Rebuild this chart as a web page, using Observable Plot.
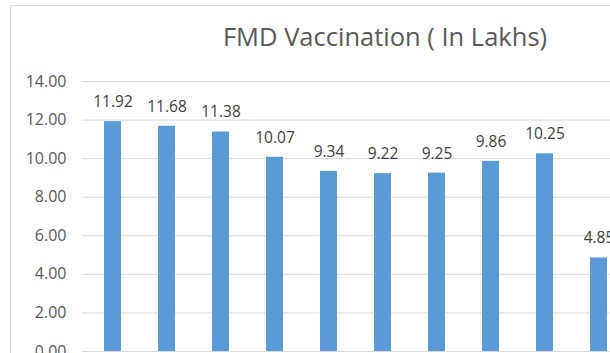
<!DOCTYPE html>
<html>
<head>
<meta charset="utf-8">
<script src="https://cdn.jsdelivr.net/npm/d3@7"></script>
<script src="https://cdn.jsdelivr.net/npm/@observablehq/plot@0.6"></script>
<style>
  html, body { margin: 0; padding: 0; background: #fff; }
  #wrap { position: relative; width: 610px; height: 353px; overflow: hidden; background: #fff; }
  #frame { position: absolute; left: 10px; top: 5px; width: 700px; height: 400px; border-left: 1px solid #D9D9D9; border-top: 1px solid #D9D9D9; }
  #title { position: absolute; left: 185px; width: 400px; top: 19px; text-align: center; font-family: "Open Sans", sans-serif; font-size: 25.5px; color: #595959; white-space: nowrap; }
  #chart { position: absolute; left: 0; top: 0; }
</style>
</head>
<body>
<div id="wrap">
  <div id="frame"></div>
  <div id="title">FMD Vaccination ( In Lakhs)</div>
  <div id="chart"></div>
</div>
<script>
const categories = ["1", "2", "3", "4", "5", "6", "7", "8", "9", "10"];
const values = [11.92, 11.68, 11.38, 10.07, 9.34, 9.22, 9.25, 9.86, 10.25, 4.85];
const yTicks = [0, 2, 4, 6, 8, 10, 12, 14];

const data = categories.map((c, i) => ({cat: c, value: values[i]}));

const plot = Plot.plot({
  width: 610,
  height: 353,
  marginLeft: 82,
  marginRight: 0,
  marginTop: 81,
  marginBottom: 2,
  style: {fontFamily: "'Open Sans', sans-serif", background: "transparent", overflow: "visible"},
  x: {type: "band", domain: categories, range: [83.8, 628.2], paddingInner: 0.68, paddingOuter: 0.34, axis: null},
  y: {domain: [0, 14], axis: null},
  marks: [
    Plot.ruleY(yTicks, {stroke: "#D9D9D9", strokeWidth: 1}),
    Plot.axisY(yTicks, {tickSize: 0, tickPadding: 16, tickFormat: d3.format(".2f"), fontSize: 16, color: "#595959", fill: "#595959", label: null}),
    Plot.barY(data, {x: "cat", y: "value", fill: "#5B9BD5"}),
    Plot.text(data, {x: "cat", y: "value", text: d => d.value.toFixed(2), dy: -19.5, fontSize: 15.5, fill: "#404040"})
  ]
});
document.getElementById("chart").appendChild(plot);
</script>
</body>
</html>
